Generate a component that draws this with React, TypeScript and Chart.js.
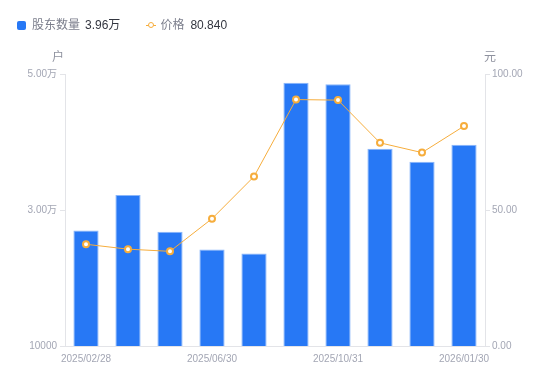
import React, { useEffect, useRef } from "react";
import { Chart, registerables } from "chart.js";

Chart.register(...registerables);

const categories = [
  "2025/02/28",
  "2025/03/31",
  "2025/04/30",
  "2025/06/30",
  "2025/08/29",
  "2025/09/30",
  "2025/10/31",
  "2025/11/28",
  "2025/12/31",
  "2026/01/30",
];
const holders = [27000, 32200, 26800, 24200, 23600, 48700, 48500, 39000, 37100, 39600];
const prices = [37.4, 35.6, 34.8, 46.8, 62.3, 90.6, 90.4, 74.7, 71.1, 80.84];
const shownLabelIdx = [0, 3, 6, 9];
const legendHolders = "3.96万";
const legendPrice = "80.840";

const FONT = "'Liberation Sans', 'Noto Sans CJK SC', sans-serif";
const TICK_COLOR = "#a3a6b4";
const AXIS_COLOR = "#e3e4e8";
const BLUE = "#2778f5";
const ORANGE = "#f6ad3c";

const unitPlugin = {
  id: "units",
  afterDraw(chart: any) {
    const { ctx, chartArea } = chart;
    ctx.save();
    ctx.font = `12px ${FONT}`;
    ctx.fillStyle = "#8e919e";
    ctx.textAlign = "center";
    ctx.textBaseline = "middle";
    ctx.fillText("户", chartArea.left - 7, chartArea.top - 16);
    ctx.fillText("元", chartArea.right + 5, chartArea.top - 16);
    ctx.restore();
  },
};

export default function App() {
  const ref = useRef<HTMLCanvasElement>(null);
  useEffect(() => {
    if (!ref.current) return;
    const chart = new Chart(ref.current, {
      type: "bar",
      data: {
        labels: categories,
        datasets: [
          {
            type: "line",
            label: "价格",
            data: prices,
            yAxisID: "y1",
            borderColor: ORANGE,
            borderWidth: 1,
            pointRadius: 3,
            pointBorderWidth: 2,
            pointBackgroundColor: "#ffffff",
            pointBorderColor: ORANGE,
            tension: 0,
            order: 0,
          } as any,
          {
            type: "bar",
            label: "股东数量",
            data: holders,
            yAxisID: "y",
            backgroundColor: BLUE,
            borderColor: "#8ab6fa",
            borderWidth: 1,
            categoryPercentage: 1,
            barPercentage: 0.6,
            order: 1,
          } as any,
        ],
      },
      options: {
        animation: false,
        responsive: false,
        maintainAspectRatio: false,
        layout: { padding: { top: 74, bottom: 0, left: 0, right: 0 } },
        plugins: { legend: { display: false }, tooltip: { enabled: false } },
        scales: {
          x: {
            grid: { display: false, drawTicks: false },
            border: { display: true, color: AXIS_COLOR },
            ticks: {
              autoSkip: false,
              maxRotation: 0,
              padding: 7,
              color: TICK_COLOR,
              font: { size: 10, family: FONT },
              callback: (v: any, i: number) => (shownLabelIdx.includes(i) ? categories[i] : ""),
            },
            afterFit: (s: any) => {
              s.height = 35;
            },
          },
          y: {
            position: "left",
            min: 10000,
            max: 50000,
            grid: { display: true, drawOnChartArea: false, drawTicks: true, tickLength: 5, color: AXIS_COLOR },
            border: { display: true, color: AXIS_COLOR },
            ticks: {
              stepSize: 20000,
              padding: 3,
              color: TICK_COLOR,
              font: { size: 10, family: FONT },
              callback: (v: any) => (v === 10000 ? "10000" : (v / 10000).toFixed(2) + "万"),
            },
            afterFit: (s: any) => {
              s.width = 65;
            },
          },
          y1: {
            position: "right",
            min: 0,
            max: 100,
            grid: { display: true, drawOnChartArea: false, drawTicks: true, tickLength: 5, color: AXIS_COLOR },
            border: { display: true, color: AXIS_COLOR },
            ticks: {
              stepSize: 50,
              padding: 2,
              color: TICK_COLOR,
              font: { size: 10, family: FONT },
              callback: (v: any) => Number(v).toFixed(2),
            },
            afterFit: (s: any) => {
              s.width = 65;
            },
          },
        },
      },
      plugins: [unitPlugin],
    });
    return () => chart.destroy();
  }, []);

  const textStyle: React.CSSProperties = { fontSize: 12, fontFamily: FONT, lineHeight: "14px" };
  return (
    <div style={{ position: "fixed", left: 0, top: 0, width: 550, height: 381, background: "#fff" }}>
      <canvas ref={ref} width={550} height={381} style={{ position: "absolute", left: 0, top: 0 }} />
      <div style={{ position: "absolute", left: 17, top: 18, display: "flex", alignItems: "center", ...textStyle }}>
        <span style={{ display: "inline-block", width: 9, height: 9, borderRadius: 2, background: BLUE, marginRight: 6 }} />
        <span style={{ color: "#7b7e8c" }}>股东数量</span>
        <span style={{ color: "#333640", marginLeft: 5 }}>{legendHolders}</span>
        <span style={{ position: "relative", display: "inline-block", width: 10, height: 10, marginLeft: 26, marginRight: 4 }}>
          <span style={{ position: "absolute", left: 0, top: 4.5, width: 10, height: 1, background: ORANGE }} />
          <span style={{ position: "absolute", left: 1.5, top: 1.5, width: 4, height: 4, borderRadius: "50%", border: `1.5px solid ${ORANGE}`, background: "#fff" }} />
        </span>
        <span style={{ color: "#7b7e8c" }}>价格</span>
        <span style={{ color: "#333640", marginLeft: 6 }}>{legendPrice}</span>
      </div>
    </div>
  );
}
